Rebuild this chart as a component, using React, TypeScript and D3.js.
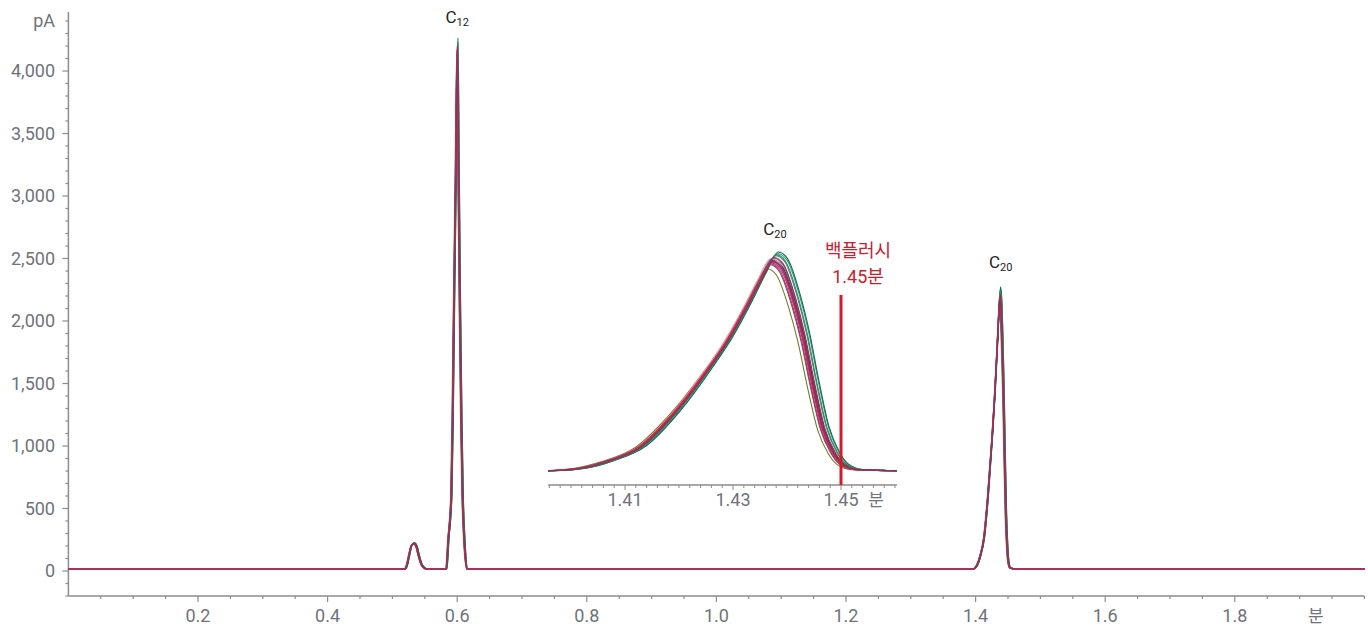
// chromatogram with backflush inset, drawn with d3 into an svg
import * as d3 from "d3";
import { useRef, useEffect } from "react";

const W = 1368;
const H = 626;
const FONT = "Roboto, 'Noto Sans CJK KR', sans-serif";
const AXIS_COLOR = "#8a8d92";
const LABEL_COLOR = "#6f7379";
const FLUSH_RED = "#c8202f";

// tick labels
const yMajorTicks = [0, 500, 1000, 1500, 2000, 2500, 3000, 3500, 4000];
const xMajorTicks = [0.2, 0.4, 0.6, 0.8, 1.0, 1.2, 1.4, 1.6, 1.8];
const insetLabelTicks = [1.41, 1.43, 1.45];
const yUnit = "pA";
const xUnit = "분";
const flushTime = 1.45;
const flushLabel = ["백플러시", "1.45분"];

// peak retention times (min) and baseline level (pA)
const baselinePA = 16;
const smallPeakTime = 0.533;
const c12Time = 0.6;
const c20Time = 1.4372;

// peak shapes: [offset from apex (min), fraction of apex height]
const smallPeakShape: [number, number][] = [
  [-0.0144, 0], [-0.0108, 0.15], [-0.0077, 0.5], [-0.0039, 0.9], [0, 1],
  [0.0039, 0.88], [0.0077, 0.5], [0.0123, 0.15], [0.0196, 0],
];
const c12Shape: [number, number][] = [
  [-0.017, 0], [-0.0139, 0.056], [-0.0093, 0.14], [-0.0073, 0.28], [-0.0052, 0.5],
  [-0.0025, 0.75], [0, 1], [0.002, 0.75], [0.004, 0.5], [0.0062, 0.28],
  [0.0082, 0.14], [0.0108, 0.056], [0.0154, 0],
];
const c20Shape: [number, number][] = [
  [-0.0415, 0], [-0.0356, 0.012], [-0.0306, 0.045], [-0.0244, 0.115], [-0.0183, 0.27],
  [-0.012, 0.48], [-0.0083, 0.62], [-0.0046, 0.79], [-0.0022, 0.91], [0, 1],
  [0.0017, 0.97], [0.0041, 0.8], [0.0057, 0.64], [0.0076, 0.4], [0.0094, 0.2],
  [0.0113, 0.086], [0.013, 0.03], [0.0157, 0.005], [0.0231, 0],
];

// one entry per injection (overlaid runs)
const traceColors = [
  "#7a7a22", "#2f9e8f", "#1d6b4b", "#3c5fb0", "#5c8f6a", "#8a5fa0", "#20253f", "#4a7fa8",
  "#2a8a70", "#6b3c8c", "#f08ca0", "#9b2b45", "#c23384", "#b02a50", "#d6283e", "#7e3a62",
];
const traceShifts = [
  -0.0009, 0.0011, 0.0012, -0.0004, 0.0007, 0.0003, 0.0002, 0.0,
  0.0008, 0.0001, -0.0002, 0.0004, -0.0001, 0.0, -0.0003, 0.0002,
];
const smallPeakHeights = [218, 226, 228, 220, 224, 222, 221, 223, 225, 220, 222, 224, 219, 221, 218, 222];
const c12Heights = [4120, 4240, 4265, 4150, 4220, 4200, 4180, 4190, 4230, 4170, 4195, 4205, 4160, 4175, 4140, 4165];
const c20Heights = [2100, 2255, 2272, 2140, 2235, 2210, 2190, 2200, 2245, 2180, 2205, 2215, 2160, 2175, 2150, 2170];

export default function App() {
  const svgRef = useRef<SVGSVGElement>(null);

  useEffect(() => {
    const svg = d3.select(svgRef.current);
    svg.selectAll("*").remove();

    // scales for main chart and inset
    const x = d3.scaleLinear().domain([0, 2]).range([68.4, 1364.4]);
    const y = d3.scaleLinear().domain([0, 4000]).range([571, 71]);
    const ix = d3.scaleLinear().domain([1.41, 1.45]).range([625, 841]);
    const iy = d3.scaleLinear().domain([13, 2272]).range([471, 252]);

    const peak = (t0: number, shape: [number, number][], h: number, shift: number) =>
      shape.map(([dt, f]) => [t0 + shift + dt, baselinePA + f * (h - baselinePA)] as [number, number]);

    // ---------- main axes ----------
    const yAxisX = x(0);
    const xAxisY = 596;

    const yMinor = d3.range(-200, 4401, 100);
    svg.append("line").attr("x1", yAxisX).attr("x2", yAxisX).attr("y1", 12).attr("y2", xAxisY)
      .attr("stroke", AXIS_COLOR).attr("stroke-width", 1.5);
    svg.append("g").selectAll("line").data(yMinor).join("line")
      .attr("x1", d => (yMajorTicks.includes(d) ? yAxisX - 6 : yAxisX - 3)).attr("x2", yAxisX)
      .attr("y1", d => y(d)).attr("y2", d => y(d))
      .attr("stroke", AXIS_COLOR).attr("stroke-width", 1.2);
    svg.append("g").selectAll("text").data(yMajorTicks).join("text")
      .attr("x", 55).attr("y", d => y(d)).attr("dy", "0.35em").attr("text-anchor", "end")
      .attr("fill", LABEL_COLOR).style("font-family", FONT).style("font-size", "18px")
      .text(d => d3.format(",")(d));
    svg.append("text").attr("x", 55).attr("y", y(4400)).attr("dy", "0.35em").attr("text-anchor", "end")
      .attr("fill", LABEL_COLOR).style("font-family", FONT).style("font-size", "18px").text(yUnit);

    const xMinor = d3.range(1, 41).map(i => i * 0.05);
    svg.append("line").attr("x1", yAxisX).attr("x2", x(2)).attr("y1", xAxisY).attr("y2", xAxisY)
      .attr("stroke", AXIS_COLOR).attr("stroke-width", 1.5);
    svg.append("g").selectAll("line").data(xMinor).join("line")
      .attr("x1", d => x(d)).attr("x2", d => x(d))
      .attr("y1", xAxisY).attr("y2", d => (xMajorTicks.some(m => Math.abs(m - d) < 1e-6) ? xAxisY + 6 : xAxisY + 3))
      .attr("stroke", AXIS_COLOR).attr("stroke-width", 1.2);
    svg.append("g").selectAll("text").data(xMajorTicks).join("text")
      .attr("x", d => x(d)).attr("y", 622).attr("text-anchor", "middle")
      .attr("fill", LABEL_COLOR).style("font-family", FONT).style("font-size", "18px")
      .text(d => d.toFixed(1));
    svg.append("text").attr("x", x(1.925)).attr("y", 622).attr("text-anchor", "middle")
      .attr("fill", LABEL_COLOR).style("font-family", FONT).style("font-size", "17px").text(xUnit);

    // ---------- main traces ----------
    const line = d3.line<[number, number]>().x(d => x(d[0])).y(d => y(d[1])).curve(d3.curveMonotoneX);
    const mainG = svg.append("g");
    traceColors.forEach((color, i) => {
      const s = traceShifts[i];
      const pts: [number, number][] = [
        [0, baselinePA],
        ...peak(smallPeakTime, smallPeakShape, smallPeakHeights[i], s),
        ...peak(c12Time, c12Shape, c12Heights[i], s),
        ...peak(c20Time, c20Shape, c20Heights[i], s),
        [2, baselinePA],
      ];
      mainG.append("path").datum(pts).attr("fill", "none").attr("stroke", color)
        .attr("stroke-width", 1.2).attr("stroke-linejoin", "round").attr("d", line);
    });

    // ---------- inset ----------
    const [i0, i1] = [ix.invert(548), ix.invert(897)];
    svg.append("clipPath").attr("id", "inset-clip").append("rect")
      .attr("x", 548).attr("y", 0).attr("width", 897 - 548).attr("height", 484);
    const iline = d3.line<[number, number]>().x(d => ix(d[0])).y(d => iy(d[1])).curve(d3.curveMonotoneX);
    const insetG = svg.append("g").attr("clip-path", "url(#inset-clip)");
    traceColors.forEach((color, i) => {
      const pts: [number, number][] = [
        [i0 - 0.01, baselinePA],
        ...peak(c20Time, c20Shape, c20Heights[i], traceShifts[i]),
        [i1 + 0.01, baselinePA],
      ];
      insetG.append("path").datum(pts).attr("fill", "none").attr("stroke", color)
        .attr("stroke-width", 1.1).attr("stroke-linejoin", "round").attr("d", iline);
    });

    const iAxisY = 485;
    svg.append("line").attr("x1", 548).attr("x2", 897).attr("y1", iAxisY).attr("y2", iAxisY)
      .attr("stroke", AXIS_COLOR).attr("stroke-width", 1.5);
    const iMinor = d3.range(1396, 1461, 2).map(v => v / 1000);
    svg.append("g").selectAll("line").data(iMinor).join("line")
      .attr("x1", d => ix(d)).attr("x2", d => ix(d)).attr("y1", iAxisY)
      .attr("y2", d => (insetLabelTicks.some(m => Math.abs(m - d) < 1e-6) ? iAxisY + 5 : iAxisY + 3))
      .attr("stroke", AXIS_COLOR).attr("stroke-width", 1);
    svg.append("g").selectAll("text").data(insetLabelTicks).join("text")
      .attr("x", d => ix(d)).attr("y", 506).attr("text-anchor", "middle")
      .attr("fill", LABEL_COLOR).style("font-family", FONT).style("font-size", "18px")
      .text(d => d.toFixed(2));
    svg.append("text").attr("x", 876).attr("y", 506).attr("text-anchor", "middle")
      .attr("fill", LABEL_COLOR).style("font-family", FONT).style("font-size", "17px").text(xUnit);

    // backflush marker
    svg.append("line").attr("x1", ix(flushTime)).attr("x2", ix(flushTime)).attr("y1", 295).attr("y2", iAxisY)
      .attr("stroke", FLUSH_RED).attr("stroke-width", 3);
    svg.append("g").selectAll("text").data(flushLabel).join("text")
      .attr("x", 858).attr("y", (_, k) => 257 + k * 26).attr("text-anchor", "middle")
      .attr("fill", FLUSH_RED).style("font-family", FONT).style("font-size", "18px")
      .text(d => d);

    // ---------- peak labels ----------
    const peakLabel = (cx: number, by: number, sub: string) => {
      const t = svg.append("text").attr("x", cx).attr("y", by).attr("text-anchor", "middle")
        .attr("fill", "#222").style("font-family", FONT).style("font-size", "17px");
      t.append("tspan").text("C");
      t.append("tspan").attr("dy", 3).style("font-size", "11px").text(sub);
    };
    peakLabel(x(c12Time), 23, "12");
    peakLabel(x(c20Time) + 1, 268, "20");
    peakLabel(ix(c20Time) + 3, 235, "20");
  }, []);

  return (
    <svg ref={svgRef} width={W} height={H}
      style={{ position: "absolute", left: 0, top: 0, background: "#fff" }} />
  );
}
